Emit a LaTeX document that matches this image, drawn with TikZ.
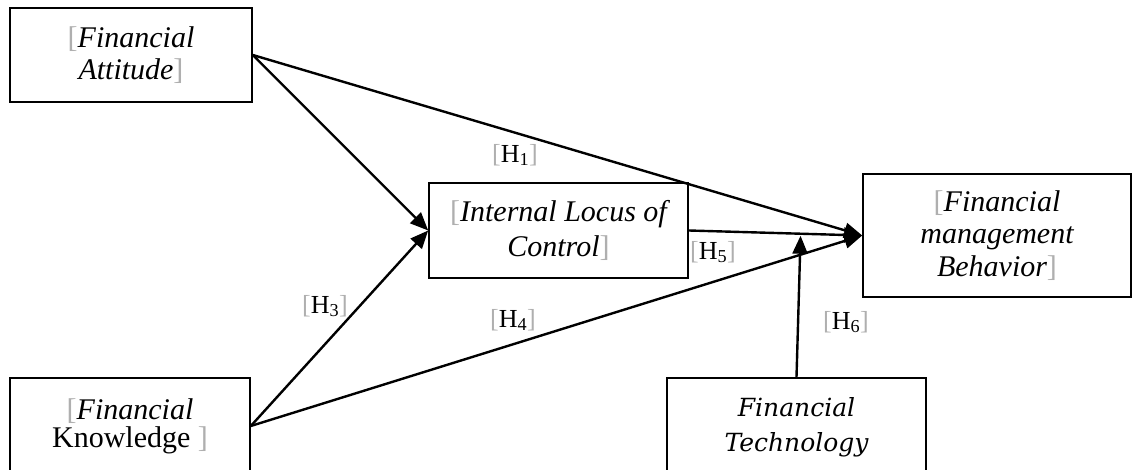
\documentclass[tikz,border=0pt]{standalone}
\usepackage{fontspec}
\setmainfont{Liberation Serif}
\newfontfamily\techfont{DejaVu Serif}
\usepackage{xcolor}
\definecolor{fieldgray}{RGB}{175,175,175}
\usetikzlibrary{arrows.meta,calc}

% gray field brackets as printed in the picture
\newcommand{\fldl}{{\upshape\color{fieldgray}[}}
\newcommand{\fldr}{{\upshape\color{fieldgray}]}}
\newcommand{\hyp}[1]{\fldl H\textsubscript{#1}\fldr}

\begin{document}
\begin{tikzpicture}[x=1pt, y=-1pt,
  varbox/.style={draw=black, line width=1.6pt, fill=white, align=center, inner sep=0pt,
    font=\fontsize{30}{32}\selectfont\itshape},
  hlabel/.style={inner sep=0pt, font=\fontsize{26}{27}\selectfont},
  arrow/.style={-{Triangle[length=18pt,width=15pt]}, line width=2.4pt, color=black}
]
\useasboundingbox (0,0) rectangle (1136,470);

\node[varbox, minimum width=242pt, minimum height=94pt] (att) at (131,55)
  {\fldl Financial\\ Attitude\fldr};
\node[varbox, minimum width=240pt, minimum height=96pt,
  font=\fontsize{30}{28}\selectfont] (knw) at (130,426)
  {\fldl\textit{Financial}\\ Knowledge \fldr};
\node[varbox, minimum width=259pt, minimum height=95pt,
  font=\fontsize{30}{35}\selectfont\itshape] (ilc) at (558.5,230.5)
  {\fldl Internal Locus of\\ Control\fldr};
\node[varbox, minimum width=268pt, minimum height=123pt,
  font=\fontsize{30}{32.5}\selectfont\itshape] (beh) at (997,235.5)
  {\fldl Financial\\ management\\ Behavior\fldr};
\node[varbox, minimum width=259pt, minimum height=98pt,
  font=\fontsize{25}{35}\selectfont\techfont\itshape] (tech) at (796.5,427)
  {Financial\\ Technology};

% hypothesis labels
\node[hlabel] (h1) at (515,155) {\hyp{1}};
\node[hlabel] (h3) at (325,306) {\hyp{3}};
\node[hlabel] (h4) at (513,320) {\hyp{4}};
\node[hlabel] (h5) at (713,252) {\hyp{5}};
\node[hlabel] (h6) at (846,322) {\hyp{6}};

% paths
\draw[arrow] (att.east) -- (ilc.west);
\draw[arrow] (att.east) -- (beh.west);
\draw[arrow] (knw.east) -- (ilc.west);
\draw[arrow] (knw.east) -- (beh.west);
\draw[arrow] (ilc.east) -- (beh.west);

% moderation
\coordinate (mod) at ($(ilc.east)!(tech.north)!(beh.west)$);
\draw[arrow, shorten >=2pt] (tech.north) -- (mod);
\end{tikzpicture}
\end{document}
